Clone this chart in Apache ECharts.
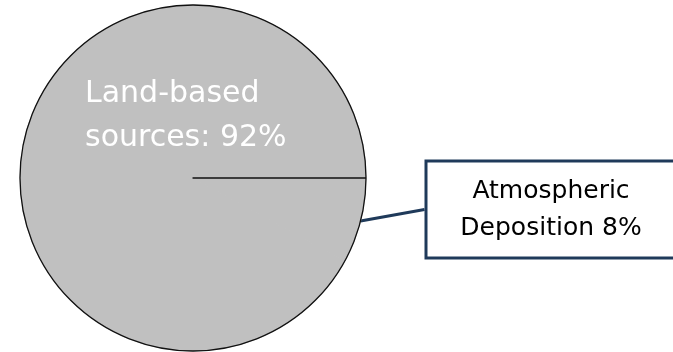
<!DOCTYPE html>
<html>
<head>
<meta charset="utf-8">
<script src="https://cdn.jsdelivr.net/npm/echarts@6/dist/echarts.min.js"></script>
<style>
  html, body { margin: 0; padding: 0; background: #ffffff; }
  #chart { width: 673px; height: 352px; }
</style>
</head>
<body>
<div id="chart"></div>
<script>
// Sources of pollution, share in percent
const sourceNames = ['Atmospheric\nDeposition', 'Land-based\nsources'];
const sourceShares = [8, 92];
const labelFormats = ['{b} {c}%', '{b}: {c}%'];

const FONT = 'DejaVu Sans';
const CENTER = [193, 178];
const RADIUS = 173;
const SLICE_GRAY = '#c0c0c0';

const pieData = sourceNames.map((name, i) => ({ name: name, value: sourceShares[i] }));
const total = sourceShares.reduce((a, b) => a + b, 0);

const chart = echarts.init(document.getElementById('chart'), null, { renderer: 'canvas' });

chart.setOption({
  animation: false,
  backgroundColor: '#ffffff',
  series: [
    {
      // filled slices with their labels
      type: 'pie',
      center: CENTER,
      radius: RADIUS,
      startAngle: 0,
      clockwise: true,
      avoidLabelOverlap: false,
      itemStyle: { color: SLICE_GRAY, borderColor: SLICE_GRAY, borderWidth: 1 },
      emphasis: { disabled: true },
      data: pieData.map((d, i) => ({
        ...d,
        label: i === 0 ? {
          show: true,
          position: 'outside',
          formatter: labelFormats[i],
          fontFamily: FONT,
          fontSize: 25,
          lineHeight: 37,
          color: '#000000',
          backgroundColor: '#ffffff',
          borderColor: '#1f3a5a',
          borderWidth: 3,
          width: 247,
          align: 'center',
          padding: [10, 0, 10, 0]
        } : {
          show: true,
          position: 'inside',
          formatter: labelFormats[i],
          fontFamily: FONT,
          fontSize: 30,
          lineHeight: 44,
          color: '#ffffff',
          align: 'left'
        },
        labelLine: {
          show: i === 0,
          length: 20,
          length2: 0,
          lineStyle: { color: '#1f3a5a', width: 3 }
        }
      })),
      labelLayout: function (params) {
        if (params.dataIndex === 0) {
          return { x: 551, y: 209.5, align: 'center', verticalAlign: 'middle' };
        }
        return { x: 85, y: 116, align: 'left', verticalAlign: 'middle' };
      }
    },
    {
      // outline: one near-full sector, so only the radius at 0° is stroked
      type: 'pie',
      silent: true,
      center: CENTER,
      radius: RADIUS,
      startAngle: 0,
      endAngle: -359.9,
      clockwise: true,
      label: { show: false },
      labelLine: { show: false },
      itemStyle: { color: 'rgba(0,0,0,0)', borderColor: '#111111', borderWidth: 1.3 },
      data: [{ name: 'total', value: total }]
    }
  ]
});
</script>
</body>
</html>
